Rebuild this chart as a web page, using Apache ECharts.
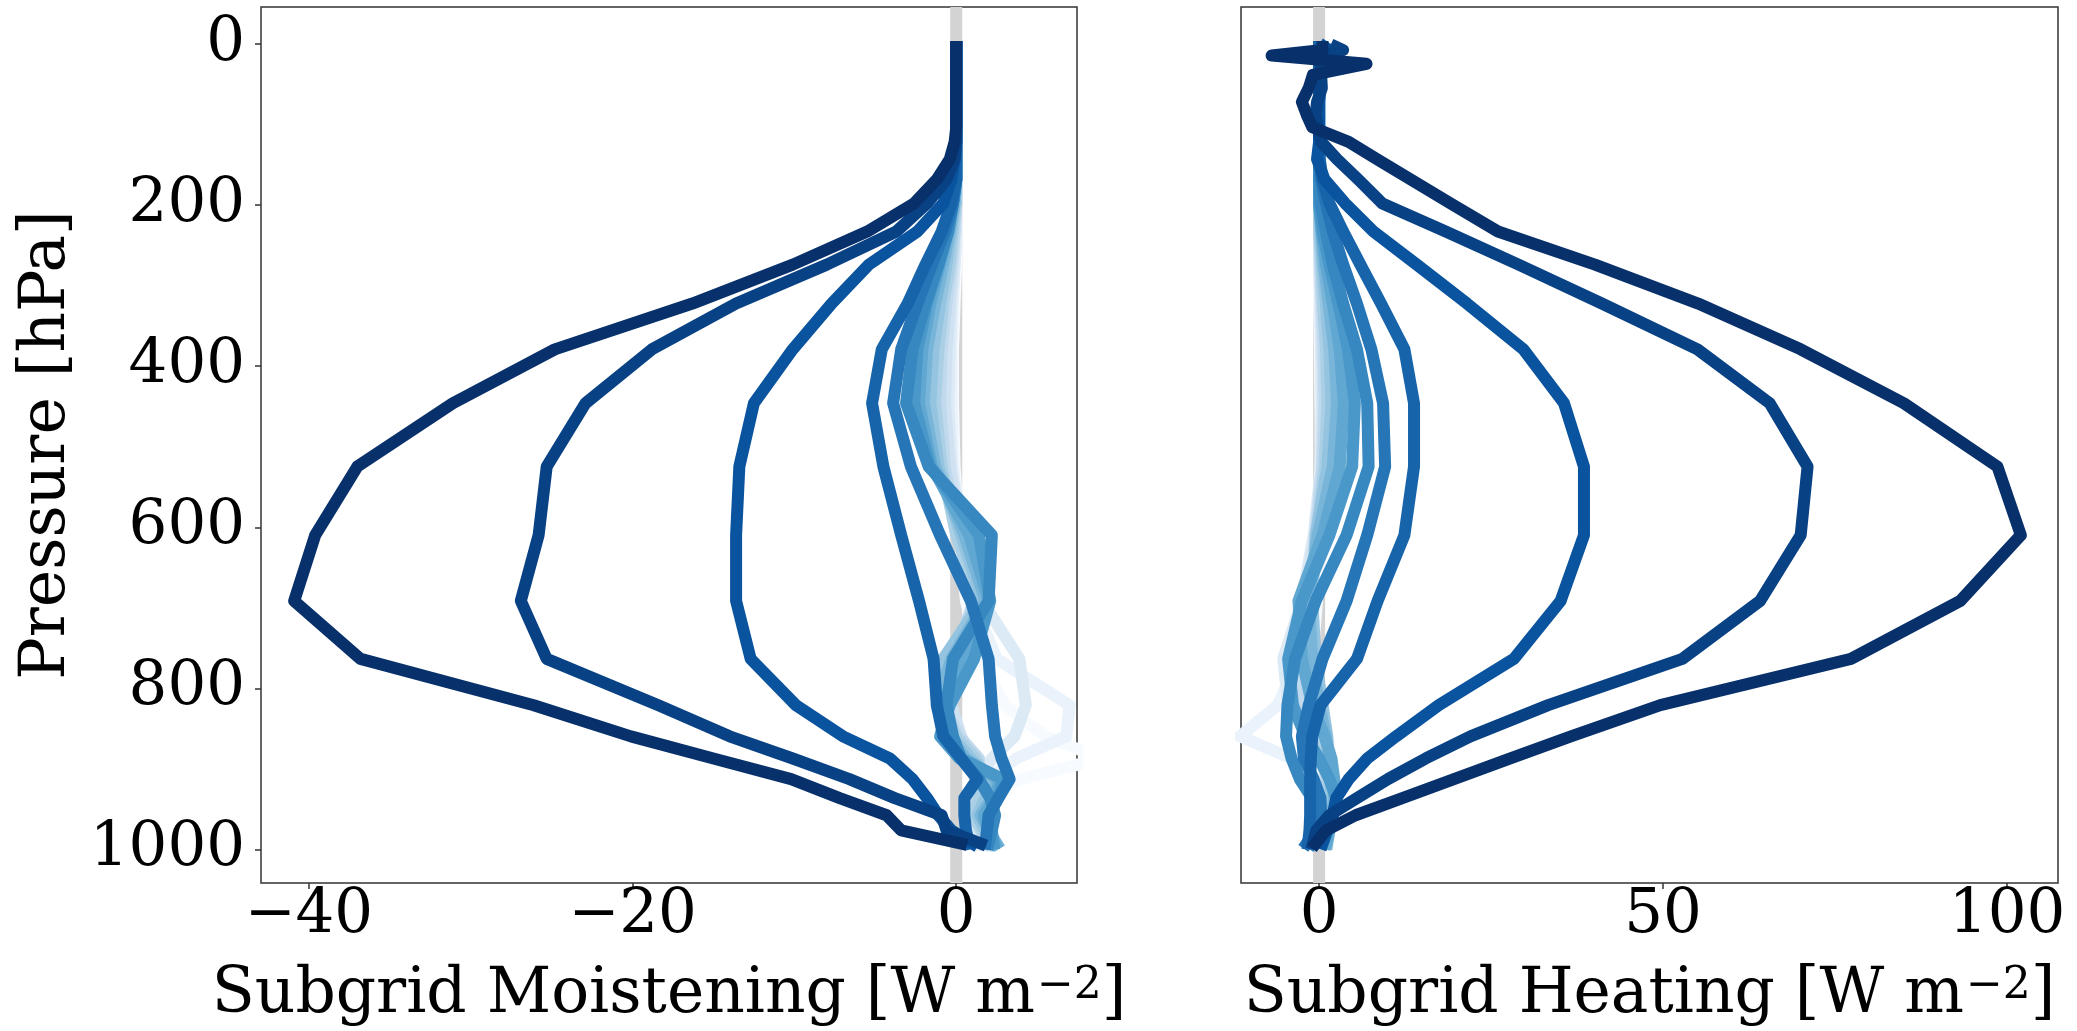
<!DOCTYPE html>
<html>
<head>
<meta charset="utf-8">
<script src="https://cdn.jsdelivr.net/npm/echarts@6/dist/echarts.min.js"></script>
<style>
  html, body { margin: 0; padding: 0; background: #ffffff; }
  #chart { width: 2077px; height: 1031px; }
</style>
</head>
<body>
<div id="chart"></div>
<script>
// Model pressure levels (hPa), top of atmosphere to surface
const pressureLevels = [3.64, 7.59, 14.36, 24.61, 38.27, 54.6, 72.01, 87.82, 103.32, 121.55,
  142.99, 168.23, 197.91, 232.83, 273.91, 322.24, 379.1, 445.99, 524.69, 609.78,
  691.39, 763.4, 820.86, 859.53, 887.02, 912.64, 936.2, 957.49, 976.33, 992.56];

// Subgrid moistening profiles [W m-2], one per bin, weakest to strongest
const moist_b01 = [0,0,0,0,0,0,0,0,0,0,0,0,0,0,0,-0.1,-0.2,-0.2,-0.1,0.2,0.6,1.5,3.0,5.5,9.0,4.0,1.5,0.8,1.0,1.2];
const moist_b02 = [0,0,0,0,0,0,0,0,0,0,0,0,0,0,-0.1,-0.2,-0.3,-0.3,-0.2,0.3,1.0,2.5,7.0,6.8,3.7,2.0,1.2,0.8,1.0,1.4];
const moist_b03 = [0,0,0,0,0,0,0,0,0,0,0,0,0,0,-0.1,-0.3,-0.4,-0.5,-0.3,0.4,1.6,3.9,4.3,3.6,2.2,1.4,1.0,0.9,1.1,1.6];
const moist_b04 = [0,0,0,0,0,0,0,0,0,0,0,0,0,-0.1,-0.2,-0.4,-0.6,-0.7,-0.4,0.3,1.4,0.6,-0.3,0.3,1.0,1.8,1.5,1.2,1.5,2.0];
const moist_b05 = [0,0,0,0,0,0,0,0,0,0,0,0,0,-0.1,-0.3,-0.6,-0.9,-1.0,-0.7,0.1,1.1,-0.2,-0.8,0.2,1.4,1.2,0.9,1.0,1.5,2.0];
const moist_b06 = [0,0,0,0,0,0,0,0,0,0,0,0,0,-0.2,-0.4,-0.8,-1.1,-1.3,-0.9,0.0,1.4,-0.6,-0.9,0.0,1.2,1.9,1.4,1.1,1.6,2.2];
const moist_b07 = [0,0,0,0,0,0,0,0,0,0,0,0,-0.1,-0.3,-0.6,-1.0,-1.4,-1.6,-1.1,0.3,1.6,-0.8,-1.1,-0.3,0.9,2.2,1.8,1.3,1.8,2.4];
const moist_b08 = [0,0,0,0,0,0,0,0,0,0,0,0,-0.1,-0.4,-0.8,-1.3,-1.8,-2.0,-1.3,0.5,1.8,-0.3,-1.2,-0.5,0.6,2.5,2.2,1.5,2.0,2.5];
const moist_b09 = [0,0,0,0,0,0,0,0,0,0,0,0,-0.2,-0.5,-1.0,-1.6,-2.1,-2.3,-1.5,0.8,2.0,0.4,-0.9,-0.8,0.4,2.7,2.4,1.7,2.0,2.4];
const moist_b10 = [0,0,0,0,0,0,0,0,0,0,0,0,-0.2,-0.6,-1.1,-1.8,-2.4,-2.6,-1.6,1.4,2.1,1.1,-0.4,-1.0,0.2,2.9,2.6,2.0,2.2,2.3];
const moist_b11 = [0,0,0,0,0,0,0,0,0,0,0,0,-0.2,-0.5,-1.1,-1.9,-2.7,-3.1,-1.7,2.2,2.0,-0.2,-0.6,-0.2,0.3,1.4,2.1,2.4,2.2,2.0];
const moist_b12 = [0,0,0,0,0,0,0,0,0,0,0,0,-0.2,-0.7,-1.5,-2.4,-3.4,-3.9,-2.8,-1.0,0.9,2.0,2.2,2.4,2.8,3.3,2.6,2.0,1.9,1.8];
const moist_b13 = [0,0,0,0,0,0,0,0,0,0,0,0,-0.3,-0.9,-1.9,-3.0,-4.6,-5.2,-4.5,-3.4,-2.3,-1.4,-1.2,-0.8,0.3,1.3,0.5,0.5,0.6,0.8];
const moist_b14 = [0,0,0,0,0,0,0,0,0,0,-0.1,-0.3,-0.8,-2.4,-5.4,-7.7,-10.1,-12.5,-13.4,-13.6,-13.6,-12.7,-9.9,-7.0,-4.1,-2.7,-1.8,-1.1,-0.3,1.0];
const moist_b15 = [0,0,0,0,0,0,0,0,0,0,-0.1,-0.6,-1.8,-3.7,-8.0,-13.6,-18.8,-22.9,-25.3,-25.8,-26.9,-25.3,-18.4,-14.0,-10.1,-6.6,-3.8,-0.9,-0.6,1.5];
const moist_b16 = [0,0,0,0,0,0,0,0,0,-0.1,-0.4,-1.2,-2.6,-5.5,-10.1,-16.3,-24.8,-31.1,-37.0,-39.6,-40.9,-36.8,-26.1,-20.1,-15.0,-10.2,-7.2,-4.3,-3.4,0.3];

// Subgrid heating profiles [W m-2], same bins
const heat_b01 = [0,0,0,0,0,0,0,0,0,0,0,0,0,0,0,0,0.1,0.2,0.3,0.2,-0.3,-1.0,-2.0,-1.0,0.0,0.5,0.6,0.5,0.4,0.3];
const heat_b02 = [0,0,0,0,0,0,0,0,0,0,0,0,0,0,0,0.1,0.2,0.3,0.2,-0.5,-1.5,-3.0,-6.0,-11.5,-4.0,-0.5,0.8,1.0,0.8,0.6];
const heat_b03 = [0,0,0,0,0,0,0,0,0,0,0,0,0,0,0,0.2,0.3,0.4,0.3,-0.8,-2.5,-5.2,-4.5,-1.5,0.5,1.2,1.4,1.2,1.0,0.8];
const heat_b04 = [0,0,0,0,0,0,0,0,0,0,0,0,0,0,0.1,0.3,0.5,0.6,0.4,-0.6,-2.0,-3.5,-2.8,-1.0,0.4,1.0,1.3,1.2,1.0,0.8];
const heat_b05 = [0,0,0,0,0,0,0,0,0,0,0,0,0,0,0.2,0.4,0.7,0.8,0.5,-0.5,-1.2,-2.8,-2.2,-0.5,0.6,1.1,1.2,1.0,0.8,0.6];
const heat_b06 = [0,0,0,0,0,0,0,0,0,0,0,0,0,0,0.3,0.6,1.0,1.2,0.8,-0.3,-1.5,-2.2,-1.0,0.0,0.8,1.2,1.0,0.8,0.6,0.5];
const heat_b07 = [0,0,0,0,0,0,0,0,0,0,0,0,0,0.2,0.5,1.0,1.5,1.8,1.2,-0.5,-1.0,-0.5,0.5,1.2,1.4,1.6,1.8,1.5,1.2,1.0];
const heat_b08 = [0,0,0,0,0,0,0,0,0,0,0,0,0,0.3,0.7,1.4,2.2,2.6,2.0,-0.2,-1.5,-1.0,0.0,1.0,1.5,2.0,2.2,1.8,1.5,1.2];
const heat_b09 = [0,0,0,0,0,0,0,0,0,0,0,0,0,0.4,1.0,2.0,3.0,3.6,3.0,0.5,-3.0,-2.5,-1.0,0.8,1.8,2.2,2.6,2.0,1.5,1.0];
const heat_b10 = [0,0,0,0,0,0,0,0,0,0,0,0,0,0.5,1.5,2.8,4.2,5.2,4.8,1.5,-2.5,-4.5,-3.8,-2.0,0.0,1.5,2.5,2.0,1.0,0.5];
const heat_b11 = [0,0,0,0,0,0,0,0,0,0,0,0,0.2,1.0,2.0,3.5,5.5,7.0,7.2,4.0,-0.5,-3.5,-4.6,-4.8,-4.0,-2.8,-1.0,0.2,0.5,-1.0];
const heat_b12 = [0,0,0,0,0,0,0,0,0,0,0,0.3,1.0,2.0,3.5,5.5,7.6,9.3,9.6,7.0,4.0,0.5,-1.5,-2.5,-2.2,-0.8,0.2,0.3,-0.5,-1.8];
const heat_b13 = [0,0,0,0,0,0,0,0,0,0,0.1,0.5,1.5,3.5,6.0,9.0,12.4,13.8,13.8,12.4,8.5,5.5,0.2,-1.0,-1.2,-1.3,-1.3,-1.3,-1.4,-1.6];
const heat_b14 = [0.8,1.5,0.6,0.2,0.3,0.2,0,0,0,0,-0.3,0.8,3.8,7.9,14.2,21.5,29.7,35.6,38.5,38.5,35.1,28.3,17.4,11.2,7.0,4.3,2.5,2.0,1.2,0.5];
const heat_b15 = [2.5,3.5,1.0,0.2,0.3,0.4,-0.3,-0.5,-0.2,0.3,2.6,5.7,9.2,18.4,29.0,41.1,55.0,65.5,71.0,70.0,64.1,52.8,33.3,22.0,15.5,10.0,5.5,1.5,-0.4,-0.9];
const heat_b16 = [0.5,0.5,-6.9,6.9,-0.9,-1.5,-2.5,-1.8,-1.0,4.3,8.4,13.3,19.1,26.0,40.1,55.1,70.0,85.0,98.6,102.0,93.2,77.3,49.6,36.6,27.8,19.6,12.1,5.3,1.0,-0.5];

// Tick labels
const pressureTicks = [0, 200, 400, 600, 800, 1000];
const moistTicks = [-40, -20, 0];
const heatTicks = [0, 50, 100];

const moistProfiles = [moist_b01, moist_b02, moist_b03, moist_b04, moist_b05, moist_b06, moist_b07, moist_b08,
  moist_b09, moist_b10, moist_b11, moist_b12, moist_b13, moist_b14, moist_b15, moist_b16];
const heatProfiles = [heat_b01, heat_b02, heat_b03, heat_b04, heat_b05, heat_b06, heat_b07, heat_b08,
  heat_b09, heat_b10, heat_b11, heat_b12, heat_b13, heat_b14, heat_b15, heat_b16];

// Axis extents
const P_MIN = -45.9, P_MAX = 1041.6;
const MOIST_MIN = -42.95, MOIST_MAX = 7.46;
const HEAT_MIN = -11.35, HEAT_MAX = 107.4;

// Sequential "Blues" colour ramp
const BLUES = ['#f7fbff', '#deebf7', '#c6dbef', '#9ecae1', '#6baed6', '#4292c6', '#2171b5', '#08519c', '#08306b'];
function hexToRgb(h) { return [1, 3, 5].map(i => parseInt(h.slice(i, i + 2), 16)); }
function blues(t) {
  const s = Math.max(0, Math.min(1, t)) * (BLUES.length - 1);
  const i = Math.min(BLUES.length - 2, Math.floor(s));
  const f = s - i;
  const a = hexToRgb(BLUES[i]), b = hexToRgb(BLUES[i + 1]);
  const c = a.map((v, k) => Math.round(v + (b[k] - v) * f));
  return 'rgb(' + c.join(',') + ')';
}

const FONT = '"DejaVu Serif", "Liberation Serif", serif';
const TICK_FS = 61;
const TITLE_FS = 63;
const LINE_W = 12;
const TICK_STYLE = { color: '#333333', width: 1.5 };
const tickFmt = v => (v < 0 ? '\u2212' + Math.abs(v) : String(v));

function profileSeries(profiles, gridIdx) {
  const n = profiles.length;
  return profiles.map((vals, i) => ({
    type: 'line',
    xAxisIndex: gridIdx,
    yAxisIndex: gridIdx,
    data: pressureLevels.map((p, k) => [vals[k], p]),
    showSymbol: false,
    symbol: 'none',
    silent: true,
    clip: true,
    z: 3,
    lineStyle: { color: blues(i / (n - 1)), width: LINE_W, cap: 'square', join: 'round' }
  }));
}

function zeroLine(gridIdx) {
  return {
    type: 'line',
    xAxisIndex: gridIdx,
    yAxisIndex: gridIdx,
    data: [[0, P_MIN], [0, P_MAX]],
    showSymbol: false,
    symbol: 'none',
    silent: true,
    z: 1,
    lineStyle: { color: '#d3d3d3', width: LINE_W }
  };
}

function xTitle(text, cx) {
  return {
    type: 'text',
    x: cx,
    y: 996,
    silent: true,
    style: {
      text: '{a|' + text + ' [W m}{s|\u22122}{a|]}',
      align: 'center',
      verticalAlign: 'middle',
      fill: '#000',
      rich: {
        a: { fontFamily: FONT, fontSize: TITLE_FS, lineHeight: TITLE_FS, fill: '#000', verticalAlign: 'middle' },
        s: { fontFamily: FONT, fontSize: 44, lineHeight: 44, fill: '#000', verticalAlign: 'top', padding: [0, 0, 56, 2] }
      }
    }
  };
}

function xAxisCfg(gridIdx, min, max, ticks) {
  return {
    type: 'value', gridIndex: gridIdx, min: min, max: max, position: 'bottom',
    axisLine: { show: false, onZero: false },
    splitLine: { show: false },
    axisTick: { show: true, customValues: ticks, length: 6, lineStyle: TICK_STYLE },
    axisLabel: { customValues: ticks, formatter: tickFmt, fontFamily: FONT, fontSize: TICK_FS, color: '#000', margin: 3 }
  };
}

const chart = echarts.init(document.getElementById('chart'), null, { renderer: 'canvas' });

const option = {
  backgroundColor: '#ffffff',
  animation: false,
  grid: [
    { left: 261, top: 7, width: 816, height: 876, show: true, borderColor: '#333333', borderWidth: 1.5, backgroundColor: 'transparent', containLabel: false },
    { left: 1241, top: 7, width: 817, height: 876, show: true, borderColor: '#333333', borderWidth: 1.5, backgroundColor: 'transparent', containLabel: false }
  ],
  xAxis: [
    xAxisCfg(0, MOIST_MIN, MOIST_MAX, moistTicks),
    xAxisCfg(1, HEAT_MIN, HEAT_MAX, heatTicks)
  ],
  yAxis: [
    {
      type: 'value', gridIndex: 0, inverse: true, min: P_MIN, max: P_MAX, position: 'left',
      axisLine: { show: false, onZero: false },
      splitLine: { show: false },
      axisTick: { show: true, customValues: pressureTicks, length: 6, lineStyle: TICK_STYLE },
      axisLabel: { customValues: pressureTicks, formatter: tickFmt, fontFamily: FONT, fontSize: TICK_FS, color: '#000', margin: 16 }
    },
    {
      type: 'value', gridIndex: 1, inverse: true, min: P_MIN, max: P_MAX, position: 'left',
      axisLine: { show: false, onZero: false },
      splitLine: { show: false },
      axisTick: { show: false },
      axisLabel: { show: false }
    }
  ],
  graphic: [
    {
      type: 'text', x: 48, y: 445, rotation: Math.PI / 2, silent: true,
      style: { text: 'Pressure [hPa]', fontFamily: FONT, fontSize: TITLE_FS, fill: '#000', align: 'center', verticalAlign: 'middle' }
    },
    xTitle('Subgrid Moistening', 669),
    xTitle('Subgrid Heating', 1649.5)
  ],
  series: [zeroLine(0), zeroLine(1)]
    .concat(profileSeries(moistProfiles, 0))
    .concat(profileSeries(heatProfiles, 1))
};

chart.setOption(option);
</script>
</body>
</html>
